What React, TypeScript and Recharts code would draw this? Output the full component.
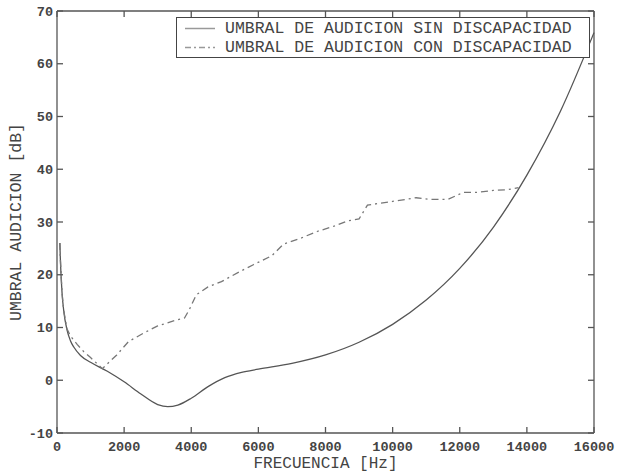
import { LineChart, Line, XAxis, YAxis } from 'recharts';

// frecuencias [Hz] y umbral [dB]
const freqSin = [85, 100, 150, 200, 300, 400, 500, 700, 1000, 1500, 2000, 2500, 3000, 3300, 3600, 4000, 4500, 5000, 5500, 6000, 7000, 8000, 9000, 10000, 11000, 12000, 13000, 14000, 15000, 16000];
const dbSin = [26, 23, 16.6, 13.2, 9.5, 7.5, 6.3, 4.7, 3.4, 1.7, -0.3, -2.6, -4.6, -5.0, -4.7, -3.4, -1.2, 0.5, 1.5, 2.1, 3.2, 4.8, 7.2, 10.6, 15.2, 21.2, 29.0, 38.9, 51.0, 65.9];

const freqCon = [85, 100, 150, 200, 300, 400, 600, 800, 1000, 1350, 1780, 2125, 2570, 3000, 3500, 3800, 3950, 4150, 4500, 4900, 5450, 5850, 6400, 6750, 7250, 7750, 8250, 8650, 9000, 9250, 10000, 10700, 11100, 11650, 12100, 12500, 13000, 13400, 13750];
const dbCon = [26, 23, 16.6, 13.2, 9.7, 8.4, 6.8, 5.4, 4.3, 2.2, 4.8, 7.3, 8.9, 10.3, 11.3, 11.8, 13.5, 16.2, 17.7, 18.7, 20.6, 21.9, 23.6, 25.8, 26.9, 28.2, 29.2, 30.2, 30.6, 33.2, 33.9, 34.6, 34.3, 34.3, 35.6, 35.6, 36.0, 36.1, 36.5];

const xTicks = [0, 2000, 4000, 6000, 8000, 10000, 12000, 14000, 16000];
const yTicks = [-10, 0, 10, 20, 30, 40, 50, 60, 70];

const serieSin = freqSin.map((f, i) => ({ f, db: dbSin[i] }));
const serieCon = freqCon.map((f, i) => ({ f, db: dbCon[i] }));

const MONO = '"Liberation Mono", "DejaVu Sans Mono", monospace';
const FRAME = '#555';
const TICK_LEN = 6;
const textStyle = { fontFamily: MONO, fontSize: 13.5, fill: '#444', fontWeight: 'bold' as const };

// ticks hacia dentro, estilo matlab
const BottomTick = ({ x, y, payload }: any) => (
  <g>
    <line x1={x} x2={x} y1={y - 8} y2={y - 8 - TICK_LEN} stroke={FRAME} strokeWidth={1.3} />
    <text x={x} y={y} dy="0.75em" textAnchor="middle" style={textStyle}>{payload.value}</text>
  </g>
);
const LeftTick = ({ x, y, payload }: any) => (
  <g>
    <line x1={x + 4} x2={x + 4 + TICK_LEN} y1={y} y2={y} stroke={FRAME} strokeWidth={1.3} />
    <text x={x} y={y} dy="0.35em" textAnchor="end" style={textStyle}>{payload.value}</text>
  </g>
);
const TopTick = ({ x, y }: any) => (
  <line x1={x} x2={x} y1={y} y2={y + TICK_LEN} stroke={FRAME} strokeWidth={1.3} />
);
const RightTick = ({ x, y }: any) => (
  <line x1={x} x2={x - TICK_LEN} y1={y} y2={y} stroke={FRAME} strokeWidth={1.3} />
);

const YLabel = ({ viewBox }: any) => {
  const cx = viewBox.x + 16;
  const cy = viewBox.y + viewBox.height / 2;
  return (
    <text x={cx} y={cy} transform={`rotate(-90 ${cx} ${cy})`} textAnchor="middle" dominantBaseline="central"
      style={{ fontFamily: MONO, fontSize: 16.5, fill: '#444' }}>
      UMBRAL AUDICION [dB]
    </text>
  );
};

const XLabel = ({ viewBox }: any) => {
  const cx = viewBox.x + viewBox.width / 2;
  const cy = viewBox.y + 31;
  return (
    <text x={cx} y={cy} textAnchor="middle" dominantBaseline="central"
      style={{ fontFamily: MONO, fontSize: 16, fill: '#444' }}>
      FRECUENCIA [Hz]
    </text>
  );
};

export default function App() {
  return (
    <div style={{ position: 'absolute', left: 0, top: 0, width: 619, height: 472, background: '#fff' }}>
      <LineChart width={619} height={472} margin={{ top: 10, right: 24, bottom: 0, left: 0 }}>
        <XAxis dataKey="f" type="number" domain={[0, 16000]} ticks={xTicks} height={39} interval={0}
          tickSize={0} tickMargin={8} tick={<BottomTick />} tickLine={false}
          stroke={FRAME} strokeWidth={1.3} label={<XLabel />} allowDuplicatedCategory={false} />
        <XAxis xAxisId="top" dataKey="f" orientation="top" type="number" domain={[0, 16000]} ticks={xTicks}
          height={1} interval={0} tickSize={0} tickMargin={0} tick={<TopTick />} tickLine={false}
          stroke={FRAME} strokeWidth={1.3} allowDuplicatedCategory={false} />
        <YAxis type="number" domain={[-10, 70]} ticks={yTicks} width={57} interval={0}
          tickSize={0} tickMargin={4} tick={<LeftTick />} tickLine={false}
          stroke={FRAME} strokeWidth={1.3} label={<YLabel />} />
        <YAxis yAxisId="right" orientation="right" type="number" domain={[-10, 70]} ticks={yTicks}
          width={1} interval={0} tickSize={0} tickMargin={0} tick={<RightTick />} tickLine={false}
          stroke={FRAME} strokeWidth={1.3} />
        <Line data={serieSin} dataKey="db" type="monotone" stroke="#555" strokeWidth={1.3}
          dot={false} activeDot={false} isAnimationActive={false} />
        <Line data={serieCon} dataKey="db" xAxisId="top" yAxisId="right" type="linear" stroke="#777"
          strokeWidth={1.3} strokeDasharray="7 4 2 4" dot={false} activeDot={false} isAnimationActive={false} />
      </LineChart>
      <div style={{
        position: 'absolute', left: 176, top: 17, width: 412, height: 39,
        border: '1px solid #444', background: '#fff', fontFamily: MONO, fontSize: 16.5, color: '#444',
      }}>
        {[
          { nombre: 'UMBRAL DE AUDICION SIN DISCAPACIDAD', dash: undefined },
          { nombre: 'UMBRAL DE AUDICION CON DISCAPACIDAD', dash: '6 3 2 3' },
        ].map((it, i) => (
          <div key={i} style={{ position: 'absolute', left: 0, top: 1 + i * 19, height: 19, display: 'flex', alignItems: 'center' }}>
            <svg width={48} height={19} style={{ display: 'block' }}>
              <line x1={8} x2={38} y1={9.5} y2={9.5} stroke="#999" strokeWidth={1.5} strokeDasharray={it.dash} />
            </svg>
            <span style={{ whiteSpace: 'nowrap', lineHeight: '19px' }}>{it.nombre}</span>
          </div>
        ))}
      </div>
    </div>
  );
}
